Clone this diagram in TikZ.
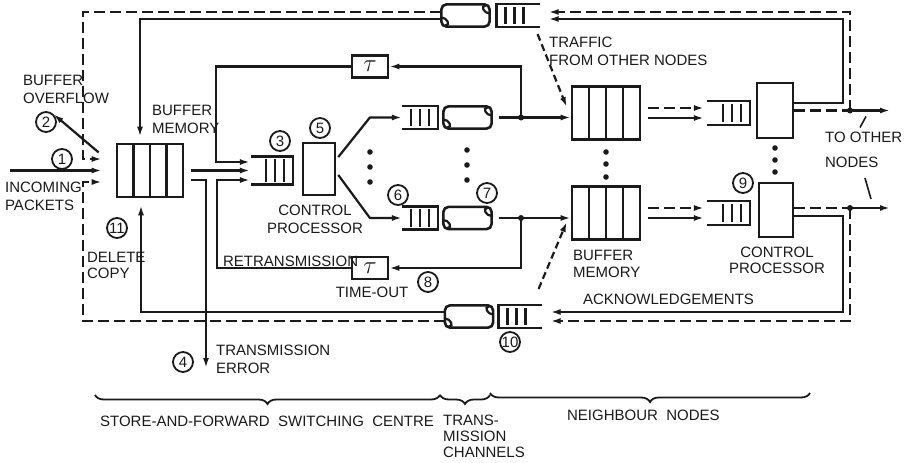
\documentclass[tikz,border=0pt]{standalone}
\usepackage{fontspec}
\setmainfont{Liberation Sans}
\usepackage{tikz}
\usetikzlibrary{arrows.meta,calc,decorations.pathreplacing}
\definecolor{ink}{HTML}{1A1A1A}
\tikzset{every node/.append style={font=\fontsize{15}{18}\selectfont}}
\tikzset{
  bufmem/.style={draw,line width=2.6pt,minimum width=68pt,minimum height=53pt,inner sep=0pt,
    path picture={\foreach \f in {0.25,0.5,0.75}
      \draw[line width=2.4pt] ($(path picture bounding box.north west)!\f!(path picture bounding box.north east)$)
        -- ($(path picture bounding box.south west)!\f!(path picture bounding box.south east)$);}},
  ctrl/.style={draw,line width=2.6pt,minimum width=34pt,minimum height=54pt,inner sep=0pt},
  tbox/.style={draw,line width=2.6pt,minimum width=36pt,minimum height=22pt,inner sep=0pt,font=\fontsize{26}{26}\selectfont},
  qbox/.style={minimum width=40pt,minimum height=21pt,inner sep=0pt},
  pbox/.style={minimum width=46pt,minimum height=20pt,inner sep=0pt},
  num/.style={draw,circle,line width=1.8pt,minimum size=20pt,inner sep=0pt,font=\fontsize{15}{15}\selectfont},
  lbl/.style={inner sep=0pt,align=left,anchor=west},
  ackline/.style={dash pattern=on 11pt off 5pt},
  trafline/.style={dash pattern=on 7pt off 4pt}
}
% queue, server end on the right / on the left
\newcommand{\qright}[3][]{%
  \node[qbox,#1] (#2) at (#3) {};
  \draw[line width=2.6pt] (#2.north west) -- (#2.north east) -- (#2.south east) -- (#2.south west);
  \foreach \dd in {9,18,27}
    \draw ([xshift=-\dd pt,yshift=-3pt]#2.north east) -- ([xshift=-\dd pt,yshift=3pt]#2.south east);}
\newcommand{\qleft}[3][]{%
  \node[qbox,#1] (#2) at (#3) {};
  \draw[line width=2.6pt] (#2.north east) -- (#2.north west) -- (#2.south west) -- (#2.south east);
  \foreach \dd in {9,18,27}
    \draw ([xshift=\dd pt,yshift=-3pt]#2.north west) -- ([xshift=\dd pt,yshift=3pt]#2.south west);}
% transmission channel
\newcommand{\chan}[2]{%
  \node[pbox] (#1) at (#2) {};
  \draw[line width=2.6pt,rounded corners=5pt] (#1.north west) rectangle (#1.south east);
  \draw ([yshift=-2pt]#1.west) to[out=0,in=0,looseness=1.6] ([xshift=4pt,yshift=1pt]#1.south west);
  \draw ([xshift=-4pt,yshift=-1pt]#1.north east) to[out=180,in=180,looseness=1.6] ([yshift=2pt]#1.east);}

\begin{document}
\begin{tikzpicture}[x=1pt,y=-1pt,>={Latex[length=10pt,width=6pt]},line width=2.2pt,ink]
\fill[white] (0,0) rectangle (908,463);
\useasboundingbox (0,0) rectangle (908,463);

% switching centre
\node[bufmem,minimum width=66pt] (lbm) at (150,170.5) {};
\qright[minimum height=26pt]{q3}{272,170.5}
\node[ctrl,minimum width=32pt,minimum height=52pt] (cp5) at (319,169) {};
\node[tbox] (tu) at (370,66.5) {$\tau$};
\node[tbox] (td) at (370,268) {$\tau$};
\qright[minimum width=34pt]{qu}{420,117.5}
\qright[minimum width=34pt]{q6}{420,218}
\chan{pu}{467.5,117.5}
\chan{pd}{467.5,218}
\chan{tp}{465.5,15.5}
\qleft[minimum width=41pt]{tq}{518,15.5}
\chan{bp}{469,316.5}
\qleft[minimum width=41pt]{bq}{520,316.5}

% neighbour nodes
\node[bufmem] (ubm) at (606,113) {};
\node[bufmem] (dbm) at (606,213) {};
\qright[minimum width=41pt,minimum height=22pt]{uq}{728.5,113}
\qright[minimum width=41pt,minimum height=22pt]{dq}{728.5,213}
\node[ctrl,minimum width=36pt,minimum height=55pt] (cpu) at (775,110.5) {};
\node[ctrl] (cpd) at (776,210) {};

\coordinate (inc) at (10,170.5);
\coordinate (err) at (206,368);
\coordinate (j1) at (850,110.5);
\coordinate (j2) at (850,208);
\coordinate (j3) at (521,117.5);
\coordinate (j4) at (521,218);
\coordinate (o1) at (890,110.5);
\coordinate (o2) at (890,208);
\coordinate (ru) at (843,19);
\coordinate (rd) at (843,312);

% labels
\node[num] (c1) at (62,159) {1};
\node[num] (c2) at (46,122) {2};
\node[num] (c3) at (280,141) {3};
\node[num] (c4) at (183,362) {4};
\node[num] (c5) at (320,128) {5};
\node[num] (c6) at (398,195) {6};
\node[num] (c7) at (487,193) {7};
\node[num] (c8) at (428,282) {8};
\node[num] (c9) at (743,183) {9};
\node[num] (c10) at (510,342) {10};
\node[num] (c11) at (117,228) {11};
\node[lbl] (tovf) at (22,89) {BUFFER\\OVERFLOW};
\node[lbl] (tin) at (4,196) {INCOMING\\PACKETS};
\node[lbl] (tlbm) at (151,119) {BUFFER\\MEMORY};
\node[align=center,inner sep=0pt] (tcp5) at (315,219) {CONTROL\\PROCESSOR};
\node[lbl] (tret) at (222,261) {RETRANSMISSION};
\node[inner sep=0pt] (tto) at (372,292) {TIME-OUT};
\node[lbl,font=\fontsize{15}{16}\selectfont] (tdel) at (86,265) {DELETE\\COPY};
\node[lbl] (terr) at (215,359) {TRANSMISSION\\ERROR};
\node[lbl] (ttraf) at (548,51) {TRAFFIC\\FROM OTHER NODES};
\node[lbl,font=\fontsize{15}{17}\selectfont] (trbm) at (572,263.5) {BUFFER\\MEMORY};
\node[align=center,inner sep=0pt,font=\fontsize{15}{16}\selectfont] (tcpd) at (777,260) {CONTROL\\PROCESSOR};
\node[lbl] (tack) at (582,299) {ACKNOWLEDGEMENTS};
\node[lbl] (tother) at (824,150) {TO OTHER\\[7pt]NODES};
\node[lbl] (tsfc) at (99,421) {STORE-AND-FORWARD\ \ SWITCHING\ \ CENTRE};
\node[lbl,anchor=north west,font=\fontsize{15}{16}\selectfont] (ttc) at (442,414) {TRANS-\\MISSION\\CHANNELS};
\node[lbl] (tnb) at (566,415) {NEIGHBOUR\ \ NODES};

% data flow
\draw[->] (inc) -- ([xshift=-14pt]lbm.west);
\draw[->] ([xshift=7pt]lbm.east) -- ([xshift=-1pt]q3.west);
\draw[->] ([xshift=7pt,yshift=-9.5pt]lbm.east) -| (err);
\draw[->] ([xshift=-17pt,yshift=18pt]lbm.west) -- (c2.north east);
\draw[->] (tu.west) -| ([xshift=-35pt,yshift=8.5pt]q3.west) -- ([xshift=-1pt,yshift=8.5pt]q3.west);
\draw[->] (td.west) -| ([xshift=-34pt,yshift=-9.5pt]q3.west) -- ([xshift=-1pt,yshift=-9.5pt]q3.west);
\draw[->] ([xshift=2pt,yshift=12pt]cp5.east) -- ([xshift=-32pt]qu.west) -- (qu.west);
\draw[->] ([xshift=2pt,yshift=-6pt]cp5.east) -- ([xshift=-32pt]q6.west) -- (q6.west);
\draw[->] ([xshift=7pt]pu.east) -- (j3) -- (j3 -| ubm.west);
\draw[->] ([xshift=7pt]pd.east) -- (j4) -- (j4 -| dbm.west);
\draw[->] (j3) |- (tu.east);
\draw[->] (j4) |- (td.east);
\fill (j3) circle (3pt);
\fill (j4) circle (3pt);
\draw[trafline,->] ([xshift=-2pt,yshift=-7pt]tq.south east) -- ([xshift=-4pt,yshift=6pt]ubm.west);
\draw[trafline,->] ([xshift=-3pt,yshift=16pt]bq.north east) -- ([xshift=-4pt,yshift=-9pt]dbm.west);
\draw[ackline,->] ([xshift=7pt,yshift=5pt]ubm.east) -- ([xshift=-3pt,yshift=5pt]uq.west);
\draw[->] ([xshift=7pt,yshift=-5pt]ubm.east) -- ([xshift=-3pt,yshift=-5pt]uq.west);
\draw[ackline,->] ([xshift=7pt,yshift=5pt]dbm.east) -- ([xshift=-3pt,yshift=5pt]dq.west);
\draw[->] ([xshift=7pt,yshift=-5pt]dbm.east) -- ([xshift=-3pt,yshift=-5pt]dq.west);
\draw[ackline] (cpu.east) -- (j1);
\draw[->] (j1) -- (o1);
\draw[ackline] ([yshift=2pt]cpd.east) -- (j2);
\draw[->] (j2) -- (o2);
\fill (j1) circle (3pt);
\fill (j2) circle (3pt);
\draw[line width=1.6pt] ($(j1)+(16,6)$) -- ($(j1)+(10,17)$);
\draw[line width=1.6pt] ($(j2)+(15,-30)$) -- ($(j2)+(21,-9)$);

% return paths
\draw[ackline,->] (j1) |- ([xshift=9pt,yshift=3.5pt]tq.east);
\draw[->] ([yshift=7.5pt]cpu.east) -| (ru) -- ([xshift=9pt,yshift=-3.5pt]tq.east);
\draw[ackline,->] ([yshift=3.5pt]tp.west) -| (83,159) -- ([xshift=-14pt,yshift=11.5pt]lbm.west);
\draw[->] ([yshift=-3.5pt]tp.west) -| ([xshift=-10pt,yshift=6pt]lbm.north);
\draw[->] ([yshift=-6pt]cpd.east) -| (rd) -- ([xshift=9pt,yshift=4.5pt]bq.east);
\draw[ackline,->] (j2) |- ([xshift=9pt,yshift=-4.5pt]bq.east);
\draw[->] ([yshift=4.5pt]bp.west) -| ([xshift=-9pt,yshift=-7pt]lbm.south);
\draw[ackline,->] ([yshift=-4.5pt]bp.west) -| (83,182) -- ([xshift=-14pt,yshift=-11.5pt]lbm.west);

\foreach \y in {152,167,182} \fill (370,\y) circle (2.8pt);
\foreach \y in {150,165,180} \fill (467,\y) circle (2.8pt);
\foreach \y in {152,164,177} \fill (606,\y) circle (2.8pt);
\foreach \y in {148,160,172} \fill (775,\y) circle (2.8pt);

\draw[line width=1.8pt,decorate,decoration={brace,mirror,amplitude=9pt}] (95,395) -- (440,395);
\draw[line width=1.8pt,decorate,decoration={brace,mirror,amplitude=9pt}] (440,395) -- (490,395);
\draw[line width=1.8pt,decorate,decoration={brace,mirror,amplitude=9pt}] (490,393) -- (810,393);
\end{tikzpicture}
\end{document}
